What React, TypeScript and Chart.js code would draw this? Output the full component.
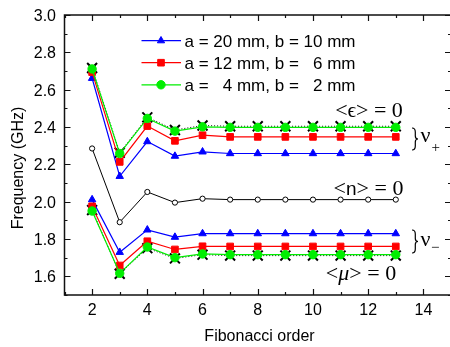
import React, { useEffect, useRef } from 'react';
import { Chart, registerables } from 'chart.js';

Chart.register(...registerables);

// ---------- data ----------
const fibOrder = [2, 3, 4, 5, 6, 7, 8, 9, 10, 11, 12, 13];

// upper branch (nu+)
const blueUpper = [2.661, 2.136, 2.322, 2.244, 2.267, 2.258, 2.258, 2.258, 2.258, 2.258, 2.258, 2.258];
const redUpper = [2.694, 2.213, 2.405, 2.326, 2.356, 2.347, 2.347, 2.347, 2.347, 2.347, 2.347, 2.347];
const greenUpper = [2.711, 2.258, 2.446, 2.378, 2.401, 2.398, 2.398, 2.398, 2.398, 2.398, 2.398, 2.398];
const epsZeroUpper = [2.716, 2.262, 2.452, 2.384, 2.408, 2.404, 2.404, 2.404, 2.404, 2.404, 2.404, 2.404];

// <n> = 0
const nZero = [2.285, 1.890, 2.052, 1.995, 2.016, 2.011, 2.011, 2.011, 2.011, 2.011, 2.011, 2.011];

// lower branch (nu-)
const blueLower = [2.011, 1.729, 1.849, 1.810, 1.829, 1.829, 1.829, 1.829, 1.829, 1.829, 1.829, 1.829];
const redLower = [1.975, 1.658, 1.788, 1.744, 1.761, 1.760, 1.760, 1.760, 1.760, 1.760, 1.760, 1.760];
const greenLower = [1.950, 1.616, 1.757, 1.700, 1.720, 1.716, 1.716, 1.716, 1.716, 1.716, 1.716, 1.716];
const muZeroLower = [1.955, 1.614, 1.751, 1.696, 1.716, 1.711, 1.711, 1.711, 1.711, 1.711, 1.711, 1.711];

const xTicks = [2, 4, 6, 8, 10, 12, 14];
const xMinorTicks = [1, 3, 5, 7, 9, 11, 13, 15];
const yTicks = [1.6, 1.8, 2.0, 2.2, 2.4, 2.6, 2.8, 3.0];
const yMinorTicks = [1.5, 1.7, 1.9, 2.1, 2.3, 2.5, 2.7, 2.9];

const legendLabels = ['a = 20 mm, b = 10 mm', 'a = 12 mm, b =   6 mm', 'a =   4 mm, b =   2 mm'];
const xTitle = 'Fibonacci order';
const yTitle = 'Frequency (GHz)';

const BLUE = '#0000ff';
const RED = '#ff0000';
const GREEN = '#00ee00';
const BLACK = '#000000';

const SANS = '"Liberation Sans", Arial, sans-serif';
const SERIF = '"Liberation Serif", "DejaVu Serif", serif';

const pts = (ys: number[]) => fibOrder.map((x, i) => ({ x, y: ys[i] }));

type Seg = { t: string; f: string };

function drawSegs(ctx: CanvasRenderingContext2D, segs: Seg[], cx: number, baseline: number) {
  let total = 0;
  const widths: number[] = [];
  for (const s of segs) {
    ctx.font = s.f;
    const w = ctx.measureText(s.t).width;
    widths.push(w);
    total += w;
  }
  let x = cx - total / 2;
  ctx.textAlign = 'left';
  ctx.textBaseline = 'alphabetic';
  segs.forEach((s, i) => {
    ctx.font = s.f;
    ctx.fillText(s.t, x, baseline);
    x += widths[i];
  });
}

function drawBrace(ctx: CanvasRenderingContext2D, x: number, top: number, bottom: number) {
  const mid = (top + bottom) / 2;
  const w = 6;
  ctx.save();
  ctx.strokeStyle = BLACK;
  ctx.lineWidth = 1.2;
  ctx.beginPath();
  ctx.moveTo(x, top);
  ctx.quadraticCurveTo(x + w * 0.55, top, x + w * 0.55, top + 4);
  ctx.lineTo(x + w * 0.55, mid - 3);
  ctx.quadraticCurveTo(x + w * 0.55, mid, x + w, mid);
  ctx.quadraticCurveTo(x + w * 0.55, mid, x + w * 0.55, mid + 3);
  ctx.lineTo(x + w * 0.55, bottom - 4);
  ctx.quadraticCurveTo(x + w * 0.55, bottom, x, bottom);
  ctx.stroke();
  ctx.restore();
}

function drawMarker(ctx: CanvasRenderingContext2D, kind: string, x: number, y: number, color: string) {
  ctx.save();
  ctx.fillStyle = color;
  ctx.strokeStyle = color;
  ctx.lineWidth = 1;
  ctx.beginPath();
  if (kind === 'triangle') {
    const r = 4.2;
    ctx.moveTo(x, y - r);
    ctx.lineTo(x + r * 0.866, y + r * 0.5);
    ctx.lineTo(x - r * 0.866, y + r * 0.5);
    ctx.closePath();
  } else if (kind === 'rect') {
    const s = 3.3;
    ctx.rect(x - s, y - s, 2 * s, 2 * s);
  } else {
    ctx.arc(x, y, 4.2, 0, Math.PI * 2);
  }
  ctx.fill();
  ctx.stroke();
  ctx.restore();
}

const framePlugin = {
  id: 'originFrame',
  afterDraw(chart: any) {
    const ctx: CanvasRenderingContext2D = chart.ctx;
    const { left, right, top, bottom } = chart.chartArea;
    const xs = chart.scales.x;
    const ys = chart.scales.y;
    ctx.save();
    ctx.strokeStyle = '#111';
    ctx.lineWidth = 1.5;
    ctx.beginPath();
    ctx.rect(left, top, right - left, bottom - top);
    ctx.stroke();

    // ticks (inward)
    ctx.lineWidth = 1.2;
    ctx.beginPath();
    const major = 6;
    const minor = 3;
    xTicks.forEach((v) => {
      const px = Math.round(xs.getPixelForValue(v)) + 0.5;
      ctx.moveTo(px, bottom);
      ctx.lineTo(px, bottom - major);
      ctx.moveTo(px, top);
      ctx.lineTo(px, top + major);
    });
    xMinorTicks.forEach((v) => {
      const px = Math.round(xs.getPixelForValue(v)) + 0.5;
      ctx.moveTo(px, bottom);
      ctx.lineTo(px, bottom - minor);
      ctx.moveTo(px, top);
      ctx.lineTo(px, top + minor);
    });
    yTicks.forEach((v) => {
      const py = Math.round(ys.getPixelForValue(v)) + 0.5;
      ctx.moveTo(left, py);
      ctx.lineTo(left + major, py);
      ctx.moveTo(right, py);
      ctx.lineTo(right - major, py);
    });
    yMinorTicks.forEach((v) => {
      const py = Math.round(ys.getPixelForValue(v)) + 0.5;
      ctx.moveTo(left, py);
      ctx.lineTo(left + minor, py);
      ctx.moveTo(right, py);
      ctx.lineTo(right - minor, py);
    });
    ctx.stroke();

    // tick labels
    ctx.fillStyle = BLACK;
    ctx.font = '16px ' + SANS;
    ctx.textBaseline = 'alphabetic';
    ctx.textAlign = 'center';
    xTicks.forEach((v) => {
      ctx.fillText(String(v), xs.getPixelForValue(v), 315);
    });
    ctx.textAlign = 'right';
    yTicks.forEach((v) => {
      ctx.fillText(v.toFixed(1), 56, ys.getPixelForValue(v) + 6);
    });

    // axis titles
    ctx.textAlign = 'center';
    ctx.fillText(xTitle, 259.5, 341);
    ctx.save();
    ctx.translate(23, 168);
    ctx.rotate(-Math.PI / 2);
    ctx.fillText(yTitle, 0, 0);
    ctx.restore();

    // legend
    const legendColors = [BLUE, RED, GREEN];
    const legendMarkers = ['triangle', 'rect', 'circle'];
    const rowsY = [40.7, 62.7, 84.8];
    legendLabels.forEach((lab, i) => {
      const y = rowsY[i];
      ctx.strokeStyle = legendColors[i];
      ctx.lineWidth = 1.2;
      ctx.beginPath();
      ctx.moveTo(141.5, y);
      ctx.lineTo(181, y);
      ctx.stroke();
      drawMarker(ctx, legendMarkers[i], 161, y, legendColors[i]);
      ctx.fillStyle = BLACK;
      ctx.font = '17px ' + SANS;
      ctx.textAlign = 'left';
      ctx.fillText(lab, 184.5, y + 6);
    });

    // annotations
    ctx.fillStyle = BLACK;
    drawSegs(ctx, [
      { t: '<', f: '22px ' + SERIF },
      { t: '\u03F5', f: '21px ' + SERIF },
      { t: '>', f: '22px ' + SERIF },
      { t: ' = 0', f: '22px ' + SERIF },
    ], 369, 117);
    drawSegs(ctx, [
      { t: '<', f: '22px ' + SERIF },
      { t: 'n', f: '19px ' + SANS },
      { t: '>', f: '22px ' + SERIF },
      { t: ' = 0', f: '22px ' + SERIF },
    ], 368.5, 195);
    drawSegs(ctx, [
      { t: '<', f: '22px ' + SERIF },
      { t: '\u03BC', f: 'italic 22px ' + SERIF },
      { t: '>', f: '22px ' + SERIF },
      { t: ' = 0', f: '22px ' + SERIF },
    ], 361, 280);

    drawBrace(ctx, 412, 128, 150);
    drawBrace(ctx, 412, 230, 253);
    ctx.textAlign = 'left';
    ctx.font = '22px ' + SERIF;
    ctx.fillText('\u03BD', 420.5, 142);
    ctx.fillText('\u03BD', 420.5, 246);
    ctx.font = '15px ' + SERIF;
    ctx.fillText('+', 431.5, 151.5);
    ctx.fillText('\u2212', 431, 252);

    ctx.restore();
  },
};

function mkLine(data: number[], color: string, style: string, radius: number, order: number, extra: any = {}) {
  return {
    data: pts(data),
    borderColor: color,
    backgroundColor: color,
    borderWidth: 1.2,
    pointStyle: style,
    pointRadius: radius,
    pointBorderWidth: 1,
    pointBorderColor: color,
    pointBackgroundColor: color,
    showLine: true,
    tension: 0,
    fill: false,
    order,
    ...extra,
  };
}

export default function App() {
  const ref = useRef<HTMLCanvasElement | null>(null);
  useEffect(() => {
    if (!ref.current) return;
    const chart = new Chart(ref.current, {
      type: 'line',
      data: {
        datasets: [
          mkLine(greenUpper, GREEN, 'circle', 4.2, 0),
          mkLine(greenLower, GREEN, 'circle', 4.2, 0),
          mkLine(redUpper, RED, 'rect', 4.7, 1),
          mkLine(redLower, RED, 'rect', 4.7, 1),
          mkLine(blueUpper, BLUE, 'triangle', 4.3, 2),
          mkLine(blueLower, BLUE, 'triangle', 4.3, 2),
          mkLine(nZero, BLACK, 'circle', 2.6, 3, {
            pointBackgroundColor: '#ffffff',
            borderWidth: 1,
          }),
          mkLine(epsZeroUpper, BLACK, 'crossRot', 7, 4, {
            borderWidth: 1,
            borderDash: [1, 2],
            pointBorderWidth: 2,
          }),
          mkLine(muZeroLower, BLACK, 'crossRot', 7, 4, {
            borderWidth: 1,
            borderDash: [1, 2],
            pointBorderWidth: 2,
          }),
        ] as any,
      },
      options: {
        responsive: false,
        animation: false,
        events: [],
        layout: { padding: { left: 0, top: 15, right: 5.5, bottom: 0 } },
        plugins: { legend: { display: false }, tooltip: { enabled: false } },
        scales: {
          x: {
            type: 'linear',
            min: 1,
            max: 15,
            grid: { display: false },
            border: { display: false },
            ticks: { display: false },
            afterFit: (s: any) => { s.height = 52; },
          },
          y: {
            type: 'linear',
            min: 1.5,
            max: 3.0,
            grid: { display: false },
            border: { display: false },
            ticks: { display: false },
            afterFit: (s: any) => { s.width = 64.5; },
          },
        },
      } as any,
      plugins: [framePlugin],
    });
    return () => chart.destroy();
  }, []);

  return (
    <div style={{ position: 'fixed', left: 0, top: 0, width: 450, height: 347, overflow: 'hidden', background: '#fff' }}>
      <canvas ref={ref} width={460} height={347} style={{ display: 'block', width: 460, height: 347 }} />
    </div>
  );
}
